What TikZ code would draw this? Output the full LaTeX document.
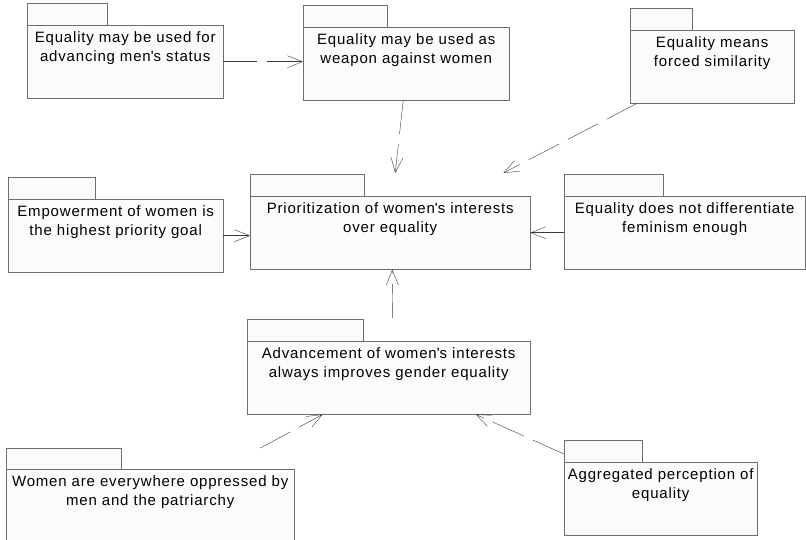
\documentclass[tikz,border=0pt]{standalone}
\usepackage{fontspec}
\setmainfont{Liberation Sans}[LetterSpace=5.5]
\usetikzlibrary{arrows.meta}

\definecolor{pkgline}{HTML}{6E6E6E}
\definecolor{pkgfill}{HTML}{FBFBFB}
\definecolor{depline}{HTML}{3A3A3A}

\begin{document}
\begin{tikzpicture}[x=1pt, y=1pt,
    pkg/.style={rectangle, draw=pkgline, fill=pkgfill, anchor=north west,
      minimum height=73pt, inner xsep=2pt, inner ysep=0pt, align=center,
      font=\fontsize{15}{19}\selectfont, text height=36.5pt, text depth=36.5pt},
    tab/.style={draw=pkgline, fill=pkgfill},
    dep/.style={draw=depline, dash pattern=on 34pt off 10pt,
      -{Straight Barb[length=15pt, width=12pt]}}]
  \useasboundingbox (0,0) rectangle (806,-540);

  % packages
  \node[pkg, minimum width=196pt] (men) at (27,-25) {Equality may be used for\\advancing men\textquotesingle s status};
  \draw[tab] (men.north west) rectangle ++(80,22);
  \node[pkg, minimum width=206pt] (weapon) at (303,-27) {Equality may be used as\\weapon against women};
  \draw[tab] (weapon.north west) rectangle ++(84,22);
  \node[pkg, minimum width=164pt] (similar) at (630,-30) {Equality means\\forced similarity};
  \draw[tab] (similar.north west) rectangle ++(62,22);

  \node[pkg, minimum width=215pt] (empower) at (8,-199) {Empowerment of women is\\the highest priority goal};
  \draw[tab] (empower.north west) rectangle ++(87,22);
  \node[pkg, minimum width=280pt] (prio) at (250,-196) {Prioritization of women\textquotesingle s interests\\over equality};
  \draw[tab] (prio.north west) rectangle ++(114,22);
  \node[pkg, minimum width=241pt] (differ) at (564,-196) {Equality does not differentiate\\feminism enough};
  \draw[tab] (differ.north west) rectangle ++(99,22);

  \node[pkg, minimum width=283pt] (advance) at (247,-341) {Advancement of women\textquotesingle s interests\\always improves gender equality};
  \draw[tab] (advance.north west) rectangle ++(116,22);
  \node[pkg, minimum width=288pt] (women) at (6,-469) {Women are everywhere oppressed by\\men and the patriarchy};
  \draw[tab] (women.north west) rectangle ++(115,21);
  \node[pkg, minimum width=193pt] (aggreg) at (564,-462) {Aggregated perception of\\equality};
  \draw[tab] (aggreg.north west) rectangle ++(78,22);

  % dependencies
  \draw[dep] (men.east) -- (men.east -| weapon.west);
  \draw[dep] ([xshift=-3pt]weapon.south) -- ([shift={(5,23)}]prio.north);
  \draw[dep] ([xshift=7pt]similar.south west) -- ([shift={(-27,23)}]prio.north east);
  \draw[dep] (empower.east) -- (empower.east -| prio.west);
  \draw[dep] (differ.west) -- (differ.west -| prio.east);
  \draw[dep] ([shift={(4,23)}]advance.north) -- ([xshift=2pt]prio.south);
  \draw[dep] ([shift={(-34,21)}]women.north east) -- ([xshift=-66pt]advance.south);
  \draw[dep] ([yshift=8pt]aggreg.north west) -- ([xshift=87pt]advance.south);
\end{tikzpicture}
\end{document}
